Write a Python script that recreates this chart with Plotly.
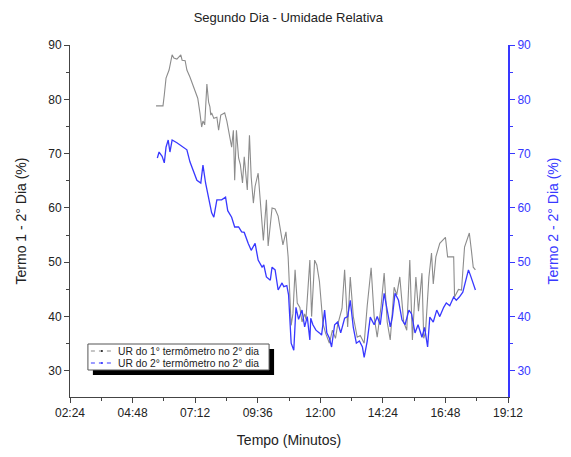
import plotly.graph_objects as go

# time in minutes since midnight
t1 = [342, 358, 361, 365, 372, 379, 383, 390, 399, 402, 409, 413, 420, 424, 429, 434, 438, 443, 445, 447,
      450, 454, 459, 463, 466, 468, 470, 475, 482, 486, 491, 500, 505, 511, 516, 520, 523, 527, 532, 536,
      541, 545, 552, 557, 561, 566, 570, 577, 581, 586, 589, 596, 600, 609, 616, 623, 630, 634, 641, 646,
      653, 657, 662, 667, 673, 678, 684, 687, 696, 700, 707, 712, 718, 726, 732, 741, 748, 755, 760, 770,
      776, 783, 789, 796, 805, 812, 821, 828, 837, 844, 851, 860, 867, 874, 881, 890, 896, 903, 912, 919,
      926, 932, 940, 946, 954, 958, 962, 970, 976, 980, 986, 995, 1008, 1013, 1027, 1029, 1038, 1045, 1052, 1063,
      1068, 1072, 1077]
ur1 = [78.8, 78.8, 80.8, 83.9, 85.4, 88.2, 87.6, 87.4, 88.2, 87.2, 87.1, 85.4, 84.1, 83.2, 82.3, 80.8, 80.2, 77.5, 75.3, 74.9,
       76.0, 75.3, 82.8, 79.5, 78.6, 77.1, 77.5, 76.5, 76.7, 74.3, 77.1, 77.5, 76.0, 73.4, 71.2, 74.3, 65.1, 74.3, 69.2, 68.0,
       64.6, 69.4, 63.3, 73.4, 65.7, 60.9, 64.0, 66.4, 62.5, 57.8, 54.0, 61.5, 53.0, 60.0, 59.8, 58.5, 54.5, 53.2, 55.6, 51.0,
       38.4, 40.5, 48.6, 42.5, 41.7, 39.0, 40.5, 39.5, 50.4, 40.0, 50.4, 49.5, 46.5, 38.8, 37.0, 35.1, 37.5, 36.0, 38.5, 41.5,
       48.6, 38.1, 47.3, 40.0, 36.2, 36.5, 35.1, 42.0, 49.0, 40.0, 36.2, 42.0, 48.0, 39.0, 35.7, 45.4, 44.0, 47.3, 39.0, 37.5,
       50.4, 35.7, 47.3, 41.0, 48.0, 36.0, 37.0, 47.3, 51.7, 46.0, 51.0, 53.5, 54.6, 51.0, 51.0, 43.6, 45.0, 44.9, 52.8, 55.4,
       52.0, 49.1, 48.6]

t2 = [345, 349, 356, 361, 365, 370, 374, 379, 390, 399, 406, 413, 420, 429, 436, 445, 450, 456, 463, 470,
      475, 482, 493, 502, 507, 516, 523, 532, 539, 545, 554, 561, 570, 577, 586, 590, 596, 605, 609, 616,
      623, 632, 636, 643, 647, 653, 659, 664, 670, 678, 684, 690, 696, 698, 703, 710, 718, 723, 730, 735,
      741, 746, 753, 760, 767, 776, 783, 789, 796, 803, 810, 817, 821, 828, 835, 844, 851, 858, 867, 874,
      881, 886, 892, 900, 908, 915, 924, 930, 938, 945, 954, 960, 967, 972, 980, 988, 995, 1004, 1010, 1018,
      1027, 1033, 1040, 1048, 1056, 1061, 1066, 1072, 1077]
ur2 = [69.2, 70.3, 69.5, 68.3, 71.2, 72.5, 70.3, 72.5, 72.0, 71.5, 71.2, 70.7, 68.5, 66.5, 65.1, 64.6, 67.9, 64.6, 61.5, 59.1,
       58.3, 61.5, 61.5, 62.0, 59.5, 58.3, 56.5, 56.5, 55.6, 55.5, 53.5, 52.2, 53.5, 50.4, 49.1, 49.5, 47.3, 46.7, 49.1, 48.6,
       44.9, 46.2, 45.5, 45.7, 44.0, 35.1, 33.8, 41.7, 39.5, 41.2, 38.1, 40.0, 35.7, 39.7, 38.5, 37.5, 37.0, 36.6, 41.2, 37.0,
       36.0, 34.4, 38.5, 39.0, 37.0, 39.7, 40.0, 43.0, 38.0, 35.1, 35.5, 34.4, 32.5, 35.5, 39.9, 38.5, 40.0, 38.5, 44.3, 41.5,
       38.1, 40.0, 44.3, 43.0, 39.4, 38.5, 41.2, 40.5, 37.0, 38.5, 36.2, 38.0, 34.4, 39.9, 39.0, 41.2, 40.0, 41.7, 42.5, 42.0,
       43.6, 43.0, 43.6, 44.5, 47.3, 48.6, 47.5, 46.0, 44.9]

x_tickvals = [144, 288, 432, 576, 720, 864, 1008, 1152]
x_ticktext = ["02:24", "04:48", "07:12", "09:36", "12:00", "14:24", "16:48", "19:12"]
y_ticks = [30, 40, 50, 60, 70, 80, 90]

series1_name = "UR do 1° termômetro no 2° dia"
series2_name = "UR do 2° termômetro no 2° dia"

FONT = "Liberation Sans, Arial, sans-serif"
BLUE = "#3838ff"
GRAY = "#8c8c8c"
XR = [144, 1152]
YR = [25.2, 90]

fig = go.Figure()
fig.add_trace(go.Scatter(x=t1, y=ur1, name=series1_name, mode="lines",
                         line=dict(color=GRAY, width=1.1), yaxis="y", showlegend=False))
fig.add_trace(go.Scatter(x=t2, y=ur2, name=series2_name, mode="lines",
                         line=dict(color=BLUE, width=1.3), yaxis="y2", showlegend=False))

L, R, T, B = 70, 61, 45, 60
W, H = 571, 457
pw, ph = W - L - R, H - T - B

def px(xp):
    return (xp - L) / pw

def py(yp):
    return (H - B - yp) / ph

fig.update_layout(
    width=W, height=H,
    margin=dict(l=L, r=R, t=T, b=B),
    paper_bgcolor="white", plot_bgcolor="white",
    font=dict(family=FONT, size=12, color="#222"),
    title=dict(text="Segundo Dia - Umidade Relativa", x=0.505, xanchor="center",
               y=1 - 17 / H, yanchor="middle", font=dict(size=13, color="#222")),
    showlegend=False,
    xaxis=dict(range=XR, tickvals=x_tickvals, ticktext=x_ticktext, showgrid=False, zeroline=False,
               showline=True, linecolor="#444", linewidth=1, ticks="outside", ticklen=5, tickcolor="#444",
               minor=dict(dtick=72, tick0=144, ticks="outside", ticklen=3, tickcolor="#444"),
               tickfont=dict(size=12, color="#222"),
               title=dict(text="Tempo (Minutos)", font=dict(size=14, color="#222"), standoff=15)),
    xaxis2=dict(range=XR, overlaying="x", side="top", anchor="y", tickvals=x_tickvals, showticklabels=False,
                showgrid=False, zeroline=False, showline=True, linecolor="#444", linewidth=1,
                ticks="inside", ticklen=5, tickcolor="#444",
                minor=dict(dtick=72, tick0=144, ticks="inside", ticklen=3, tickcolor="#444")),
    yaxis=dict(range=YR, tickvals=y_ticks, showgrid=False, zeroline=False, showline=True,
               linecolor="#444", linewidth=1, ticks="outside", ticklen=5, tickcolor="#444",
               minor=dict(dtick=5, tick0=0, ticks="outside", ticklen=3, tickcolor="#444"),
               tickfont=dict(size=12, color="#222"),
               title=dict(text="Termo 1 - 2° Dia (%)", font=dict(size=14, color="#222"), standoff=18)),
    yaxis2=dict(range=YR, tickvals=y_ticks, overlaying="y", side="right", showgrid=False, zeroline=False,
                showline=True, linecolor=BLUE, linewidth=2, ticks="outside", ticklen=5, tickcolor=BLUE,
                minor=dict(dtick=5, tick0=0, ticks="outside", ticklen=3, tickcolor=BLUE),
                tickfont=dict(size=12, color=BLUE),
                title=dict(text="Termo 2 - 2° Dia (%)", font=dict(size=14, color=BLUE), standoff=18)),
)

# hand-drawn legend box (Origin style with drop shadow)
fig.add_shape(type="rect", xref="paper", yref="paper",
              x0=px(93), x1=px(275), y0=py(375), y1=py(349),
              fillcolor="black", line=dict(width=0), layer="above")
fig.add_shape(type="rect", xref="paper", yref="paper",
              x0=px(88), x1=px(270), y0=py(370), y1=py(344),
              fillcolor="white", line=dict(color="#555", width=1), layer="above")
for name, color, yl in [(series1_name, GRAY, 351), (series2_name, BLUE, 363)]:
    fig.add_shape(type="line", xref="paper", yref="paper",
                  x0=px(91), x1=px(114), y0=py(yl), y1=py(yl),
                  line=dict(color=color, width=1.2, dash="4px,4px"), layer="above")
    fig.add_shape(type="circle", xref="paper", yref="paper",
                  x0=px(101), x1=px(103), y0=py(yl + 1), y1=py(yl - 1),
                  fillcolor="#222" if color == GRAY else BLUE, line=dict(width=0), layer="above")
    fig.add_annotation(text=name, xref="paper", yref="paper", x=px(116), y=py(yl),
                       xanchor="left", yanchor="middle", showarrow=False,
                       font=dict(size=10.3, color="#222", family=FONT))

fig.write_html("out.html")
